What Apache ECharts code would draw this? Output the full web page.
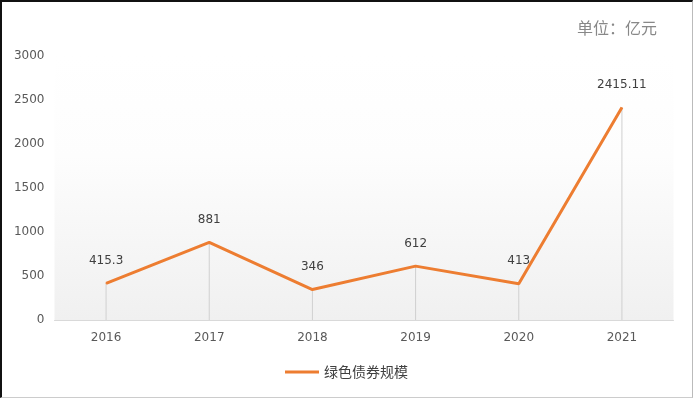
<!DOCTYPE html>
<html>
<head>
<meta charset="utf-8">
<script src="https://cdn.jsdelivr.net/npm/echarts@6/dist/echarts.min.js"></script>
<style>
html,body{margin:0;padding:0;background:#fff;}
#wrap{position:absolute;left:0;top:0;width:693px;height:398px;box-sizing:border-box;border-top:2px solid #111;border-left:2px solid #111;border-right:1px solid #bbb;border-bottom:1px solid #ccc;}
#c{position:absolute;left:0;top:0;width:693px;height:398px;}
</style>
</head>
<body>
<div id="wrap"></div>
<div id="c"></div>
<script>
var categories = ['2016', '2017', '2018', '2019', '2020', '2021'];
var values = [415.3, 881, 346, 612, 413, 2415.11];
var seriesName = '绿色债券规模';
var unitText = '单位：亿元';

var chart = echarts.init(document.getElementById('c'));
var numFont = 'DejaVu Sans';
chart.setOption({
  animation: false,
  title: {
    text: unitText,
    right: 31,
    top: 15,
    textStyle: {fontSize: 16, fontWeight: 'normal', color: '#888888', fontFamily: 'Noto Sans CJK SC'}
  },
  legend: {
    data: [seriesName],
    bottom: 14,
    left: 'center',
    icon: 'rect',
    itemWidth: 34,
    itemHeight: 3,
    itemGap: 6,
    textStyle: {fontSize: 14, color: '#404040', fontFamily: 'Noto Sans CJK SC'}
  },
  grid: {
    left: 54.5, right: 19.5, top: 56, bottom: 78,
    show: true, borderWidth: 0,
    backgroundColor: new echarts.graphic.LinearGradient(0, 0, 0, 1, [
      {offset: 0, color: '#ffffff'},
      {offset: 0.38, color: '#fdfdfd'},
      {offset: 1, color: '#f0f0f0'}
    ])
  },
  xAxis: {
    type: 'category',
    data: categories,
    boundaryGap: true,
    axisLine: {show: true, lineStyle: {color: '#d9d9d9', width: 1}},
    axisTick: {show: false},
    axisLabel: {margin: 12, fontSize: 12, color: '#595959', fontFamily: numFont}
  },
  yAxis: {
    type: 'value',
    min: 0, max: 3000, interval: 500,
    axisLine: {show: false},
    axisTick: {show: false},
    splitLine: {show: false},
    axisLabel: {margin: 10, fontSize: 12, color: '#595959', fontFamily: numFont,
      formatter: function (v) { return String(v); }}
  },
  series: [
    {
      name: 'drop',
      type: 'bar',
      data: values,
      barWidth: 1,
      silent: true,
      itemStyle: {color: '#d0d0d0'},
      legendHoverLink: false,
      z: 1
    },
    {
      name: seriesName,
      type: 'line',
      data: values,
      showSymbol: true,
      symbol: 'circle',
      symbolSize: 1,
      lineStyle: {color: '#ED7D31', width: 3},
      itemStyle: {color: '#ED7D31'},
      label: {
        show: true, position: 'top', distance: 16,
        fontSize: 12, color: '#404040', fontFamily: numFont
      },
      z: 3
    }
  ]
});
</script>
</body>
</html>
